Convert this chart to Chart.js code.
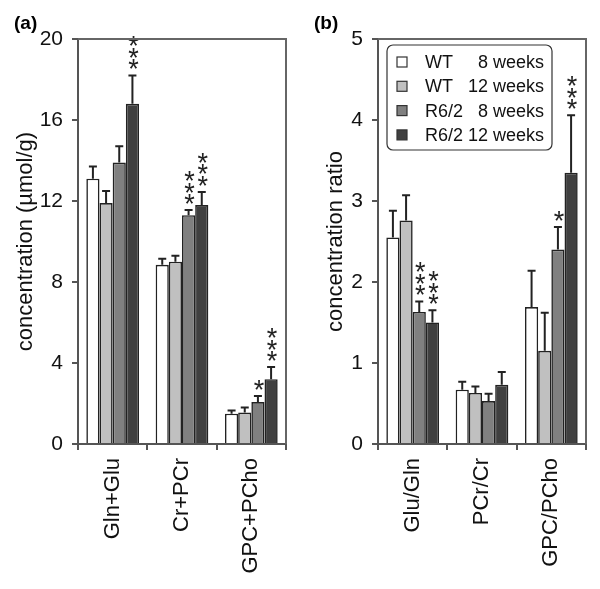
<!DOCTYPE html>
<html>
<head>
<meta charset="utf-8">
<script src="https://cdn.jsdelivr.net/npm/chart.js@4"></script>
<style>
  body { margin: 0; background: #fff; }
  .wrap { display: flex; width: 600px; height: 589px; }
  canvas { display: block; }
</style>
</head>
<body>
<div class="wrap">
  <canvas id="chartA" width="300" height="589"></canvas>
  <canvas id="chartB" width="300" height="589"></canvas>
</div>
<script>
// series info
const seriesGroups = ['WT', 'WT', 'R6/2', 'R6/2'];
const seriesAges = ['8 weeks', '12 weeks', '8 weeks', '12 weeks'];
const seriesColors = ['#ffffff', '#c0c0c0', '#808080', '#404040'];

// panel (a): concentrations (µmol/g)
const categoriesA = ['Gln+Glu', 'Cr+PCr', 'GPC+PCho'];
const wt8A = [13.1, 8.85, 1.5];
const wt12A = [11.9, 9.0, 1.55];
const r8A = [13.9, 11.3, 2.07];
const r12A = [16.8, 11.8, 3.2];
const wt8ErrA = [0.6, 0.3, 0.15];
const wt12ErrA = [0.6, 0.3, 0.25];
const r8ErrA = [0.8, 0.25, 0.3];
const r12ErrA = [1.4, 0.65, 0.6];
const r8SigA = ['', '***', '*'];
const r12SigA = ['***', '***', '***'];
const ticksA = [0, 4, 8, 12, 16, 20];

// panel (b): concentration ratios
const categoriesB = ['Glu/Gln', 'PCr/Cr', 'GPC/PCho'];
const wt8B = [2.55, 0.67, 1.69];
const wt12B = [2.76, 0.63, 1.15];
const r8B = [1.63, 0.53, 2.4];
const r12B = [1.5, 0.73, 3.35];
const wt8ErrB = [0.33, 0.1, 0.45];
const wt12ErrB = [0.31, 0.08, 0.47];
const r8ErrB = [0.13, 0.09, 0.28];
const r12ErrB = [0.15, 0.16, 0.71];
const r8SigB = ['***', '', '*'];
const r12SigB = ['***', '', '***'];
const ticksB = [0, 1, 2, 3, 4, 5];

const FONT = "'Liberation Sans', Arial, sans-serif";
const AXIS = '#555';

function makeDatasets(values, errs, sigs) {
  return values.map((v, i) => ({
    label: seriesGroups[i] + ' ' + seriesAges[i],
    data: v,
    errors: errs[i],
    sig: sigs[i],
    backgroundColor: seriesColors[i],
    borderColor: '#222',
    borderWidth: 1.6,
    categoryPercentage: 0.76,
    barPercentage: 1.0
  }));
}

// error bars + significance stars
const errorBars = {
  id: 'errorBars',
  afterDatasetsDraw(chart) {
    const ctx = chart.ctx;
    const y = chart.scales.y;
    ctx.save();
    chart.data.datasets.forEach((ds, di) => {
      const meta = chart.getDatasetMeta(di);
      meta.data.forEach((bar, i) => {
        const top = y.getPixelForValue(ds.data[i] + ds.errors[i]);
        ctx.strokeStyle = '#222';
        ctx.lineWidth = 2;
        ctx.beginPath();
        ctx.moveTo(bar.x, bar.y);
        ctx.lineTo(bar.x, top);
        ctx.moveTo(bar.x - 4, top);
        ctx.lineTo(bar.x + 4, top);
        ctx.stroke();
        const s = ds.sig ? ds.sig[i] : '';
        if (s) {
          ctx.fillStyle = '#222';
          ctx.font = '27px ' + FONT;
          ctx.textAlign = 'center';
          ctx.textBaseline = 'alphabetic';
          for (let k = 0; k < s.length; k++) {
            const cy = top - 13 - k * 11.5;
            ctx.fillText('*', bar.x + 1, cy + 16);
          }
        }
      });
    });
    ctx.restore();
  }
};

// box round the plot + panel letter
const frame = {
  id: 'frame',
  afterDraw(chart, args, opts) {
    const a = chart.chartArea;
    const ctx = chart.ctx;
    ctx.save();
    ctx.strokeStyle = '#666';
    ctx.lineWidth = 2;
    ctx.beginPath();
    ctx.moveTo(a.left, a.top);
    ctx.lineTo(a.right, a.top);
    ctx.lineTo(a.right, a.bottom);
    ctx.stroke();
    ctx.fillStyle = '#000';
    ctx.font = 'bold 19px ' + FONT;
    ctx.textAlign = 'left';
    ctx.textBaseline = 'alphabetic';
    ctx.fillText(opts.letter, 14, 29);
    ctx.restore();
  }
};

// legend with two aligned columns
const sideLegend = {
  id: 'sideLegend',
  afterDraw(chart, args, opts) {
    if (!opts.show) return;
    const ctx = chart.ctx;
    const a = chart.chartArea;
    const x0 = a.left + 9, y0 = a.top + 6, w = 165, h = 105;
    ctx.save();
    ctx.strokeStyle = '#333';
    ctx.lineWidth = 1.2;
    ctx.fillStyle = '#fff';
    ctx.beginPath();
    ctx.roundRect(x0, y0, w, h, 6);
    ctx.fill();
    ctx.stroke();
    ctx.font = '18px ' + FONT;
    ctx.textBaseline = 'middle';
    seriesGroups.forEach((g, i) => {
      const cy = y0 + 17 + i * 24.3;
      ctx.fillStyle = seriesColors[i];
      ctx.fillRect(x0 + 10, cy - 5, 10, 10);
      ctx.strokeStyle = '#333';
      ctx.lineWidth = 1.2;
      ctx.strokeRect(x0 + 10, cy - 5, 10, 10);
      ctx.fillStyle = '#111';
      ctx.textAlign = 'left';
      ctx.fillText(g, x0 + 38, cy + 1);
      ctx.textAlign = 'right';
      ctx.fillText(seriesAges[i], x0 + 157, cy + 1);
    });
    ctx.restore();
  }
};

function makeChart(id, cats, datasets, ticks, title, letter, titlePad, showLegend) {
  return new Chart(document.getElementById(id), {
    type: 'bar',
    data: { labels: cats, datasets: datasets },
    options: {
      responsive: false,
      animation: false,
      devicePixelRatio: 1,
      layout: { padding: { left: 0, right: 14, top: 39, bottom: 0 } },
      plugins: {
        legend: { display: false },
        tooltip: { enabled: false },
        frame: { letter: letter },
        sideLegend: { show: showLegend }
      },
      scales: {
        x: {
          grid: { offset: true, drawOnChartArea: false, tickLength: 6, color: AXIS, lineWidth: 2 },
          border: { color: AXIS, width: 2 },
          ticks: { color: '#111', font: { family: FONT, size: 22 }, minRotation: 90, maxRotation: 90, padding: 8 },
          afterFit: (s) => { s.height = 145; }
        },
        y: {
          min: ticks[0],
          max: ticks[ticks.length - 1],
          afterBuildTicks: (s) => { s.ticks = ticks.map(v => ({ value: v })); },
          grid: { drawOnChartArea: false, tickLength: 6, color: AXIS, lineWidth: 2 },
          border: { color: AXIS, width: 2 },
          ticks: { color: '#111', font: { family: FONT, size: 21 }, padding: 9 },
          title: { display: true, text: title, color: '#111', font: { family: FONT, size: 22 }, padding: { top: titlePad, bottom: 0 } },
          afterFit: (s) => { s.width = 78; }
        }
      }
    },
    plugins: [errorBars, frame, sideLegend]
  });
}

makeChart('chartA', categoriesA,
  makeDatasets([wt8A, wt12A, r8A, r12A], [wt8ErrA, wt12ErrA, r8ErrA, r12ErrA], [null, null, r8SigA, r12SigA]),
  ticksA, 'concentration (µmol/g)', '(a)', 13, false);

makeChart('chartB', categoriesB,
  makeDatasets([wt8B, wt12B, r8B, r12B], [wt8ErrB, wt12ErrB, r8ErrB, r12ErrB], [null, null, r8SigB, r12SigB]),
  ticksB, 'concentration ratio', '(b)', 23, true);
</script>
</body>
</html>
